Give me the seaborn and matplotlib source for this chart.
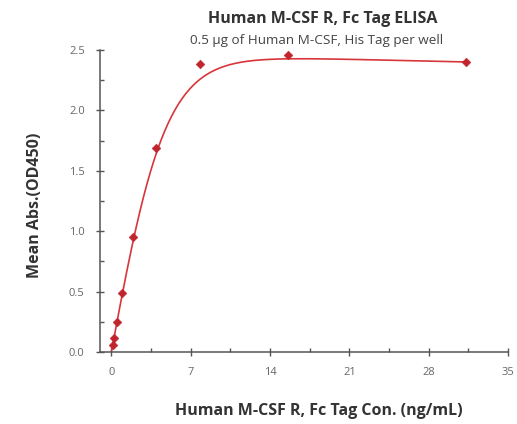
import numpy as np
import pandas as pd
import matplotlib.pyplot as plt
import seaborn as sns
from matplotlib.ticker import MultipleLocator

# ELISA data
conc = [0.122, 0.244, 0.488, 0.977, 1.953, 3.906, 7.8125, 15.625, 31.25]
od450 = [0.055, 0.12, 0.245, 0.49, 0.955, 1.685, 2.385, 2.46, 2.40]

# fit curve parameters (estimated from the drawn fit)
fit_top = 2.47
fit_scale = 4.9
fit_drift = 0.0022

x_ticks = [0, 7, 14, 21, 28, 35]
y_ticks = [0.0, 0.5, 1.0, 1.5, 2.0, 2.5]

df = pd.DataFrame({"conc": conc, "od": od450})
xs = np.linspace(0, max(conc), 300)
fit = pd.DataFrame({"conc": xs, "od": fit_top * np.tanh(xs / fit_scale) - fit_drift * xs})

sns.set_style("ticks")
plt.rcParams["font.family"] = ["Open Sans", "DejaVu Sans"]

fig = plt.figure(figsize=(5.17, 4.24), dpi=100)
ax = fig.add_axes([0.1934, 0.1698, 0.7892, 0.7122])

sns.lineplot(data=fit, x="conc", y="od", ax=ax, color="#d8353b", linewidth=1.2)
sns.scatterplot(data=df, x="conc", y="od", ax=ax, marker="D", s=20,
                color="#c0242c", edgecolor="#c0242c", zorder=3)

ax.set_xlim(-1, 35)
ax.set_ylim(0, 2.5)
ax.set_xticks(x_ticks)
ax.set_yticks(y_ticks)
ax.set_yticklabels([f"{v:.1f}" for v in y_ticks])
ax.xaxis.set_minor_locator(MultipleLocator(3.5))
ax.yaxis.set_minor_locator(MultipleLocator(0.25))
ax.tick_params(which="major", direction="inout", length=6, width=1, color="#555555",
               labelsize=8, labelcolor="#666666", pad=8)
ax.tick_params(which="minor", direction="in", length=3, width=1, color="#555555")
for side in ["left", "bottom"]:
    ax.spines[side].set_color("#555555")
    ax.spines[side].set_linewidth(1.1)
sns.despine(ax=ax)

ax.set_xlabel("Human M-CSF R, Fc Tag Con. (ng/mL)", fontsize=11.5, fontweight="bold",
              color="#333333")
ax.set_ylabel("Mean Abs.(OD450)", fontsize=11.5, fontweight="bold", color="#333333")
ax.xaxis.set_label_coords(0.537, -0.17)
ax.yaxis.set_label_coords(-0.139, 0.487)

fig.text(0.624, 0.955, "Human M-CSF R, Fc Tag ELISA", ha="center", va="center",
         fontsize=11.5, fontweight="bold", color="#333333")
fig.text(0.613, 0.904, "0.5 μg of Human M-CSF, His Tag per well", ha="center",
         va="center", fontsize=9.7, color="#444444")

fig.savefig("out.png", dpi=100, facecolor="white")
